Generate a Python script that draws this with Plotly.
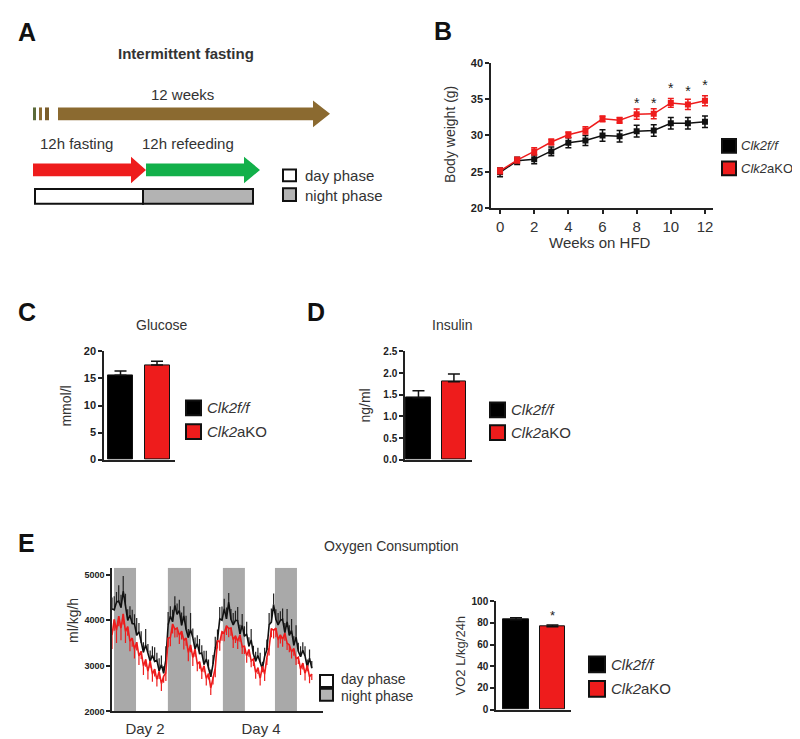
import plotly.graph_objects as go

W, H = 800, 739
FONT = "Liberation Sans, Arial, sans-serif"
TXT = "#333333"
RED = "#ee1c1c"
GRAY = "#a9a9a9"

# ---------------- data ----------------
groups = ["Clk2f/f", "Clk2aKO"]
group_labels = ["<i>Clk2f/f</i>", "<i>Clk2</i>aKO"]
group_colors = ["#000000", RED]

# Panel B: body weight
weeks = list(range(13))
bw_ctrl = [24.9, 26.5, 26.7, 27.8, 29.0, 29.3, 30.0, 29.9, 30.6, 30.7, 31.7, 31.7, 31.9]
bw_ctrl_err = [0.6, 0.5, 0.6, 0.6, 0.7, 0.7, 0.8, 0.8, 0.8, 0.8, 0.8, 0.8, 0.8]
bw_ko = [25.1, 26.6, 27.8, 29.1, 30.1, 30.7, 32.3, 32.1, 32.95, 33.0, 34.5, 34.3, 34.8]
bw_ko_err = [0.4, 0.4, 0.5, 0.4, 0.4, 0.5, 0.4, 0.4, 0.7, 0.7, 0.6, 0.7, 0.7]
sig_weeks = [8, 9, 10, 11, 12]
sig_y = [34.3, 34.3, 36.3, 36.0, 36.8]

# Panel C / D
glucose = [15.6, 17.5]
glucose_err = [0.8, 0.7]
insulin = [1.43, 1.80]
insulin_err = [0.16, 0.18]

# Panel E: VO2 24h
vo2 = [83.0, 76.5]
vo2_err = [1.8, 1.6]
vo2_sig = 86

# Panel E: oxygen consumption time course (hours)
o2_ctrl = [4250, 4230, 4400, 4420, 4280, 4640, 4320, 4000, 4110, 3930,
           3920, 3670, 3750, 3500, 3300, 3460, 3300, 3100, 3230, 3100,
           3120, 2890, 3030, 2840, 3130, 3900, 4090, 3970, 4330, 4130,
           4220, 3890, 4100, 3800, 3620, 3800, 3620, 3370, 3490, 3270,
           3280, 3030, 3150, 2920, 2760, 3040, 3390, 3570, 4030, 4000,
           4250, 4030, 4400, 4020, 3900, 4000, 3990, 3700, 3890, 3650,
           3700, 3430, 3570, 3260, 3100, 3230, 3090, 2930, 3210, 3350,
           3900, 3960, 4350, 4020, 3900, 4000, 4020, 3730, 3970, 3670,
           3780, 3450, 3630, 3320, 3200, 3340, 3220, 2970, 3170, 2950]
o2_ctrl_err = [250, 300, 220, 350, 280, 330, 260, 240, 200, 300,
               210, 380, 190, 260, 220, 350, 180, 240, 200, 310,
               170, 280, 200, 150, 300, 280, 220, 260, 200, 240,
               230, 280, 210, 300, 190, 360, 200, 250, 180, 320,
               170, 300, 180, 220, 160, 200, 250, 230, 260, 300,
               220, 250, 200, 230, 260, 210, 300, 200, 250, 220,
               270, 200, 240, 180, 210, 170, 200, 160, 190, 230,
               260, 300, 240, 220, 260, 200, 240, 210, 280, 220,
               250, 200, 260, 190, 230, 180, 210, 170, 190, 160]
o2_ko = [3670, 4020, 3780, 4090, 3820, 4140, 3750, 3860, 3540, 3610,
         3370, 3520, 3220, 3320, 2990, 3140, 2880, 3110, 2820, 2930,
         2700, 2880, 2610, 2770, 2850, 3610, 3620, 3920, 3800, 3830,
         3670, 3760, 3560, 3610, 3290, 3460, 3180, 3370, 3040, 3090,
         2870, 3000, 2720, 2830, 2510, 2760, 2950, 3560, 3520, 3750,
         3720, 3880, 3820, 3830, 3570, 3660, 3540, 3680, 3420, 3430,
         3220, 3360, 3110, 3150, 2850, 2960, 2720, 2990, 2820, 3180,
         3400, 3820, 3780, 3830, 3570, 3680, 3580, 3720, 3500, 3460,
         3310, 3380, 3160, 3190, 2930, 3060, 2830, 3010, 2760, 2820]
o2_ko_err = [300, 250, 280, 220, 260, 230, 250, 200, 220, 190,
             210, 180, 200, 170, 190, 160, 180, 150, 170, 160,
             150, 170, 160, 140, 180, 200, 190, 210, 180, 200,
             190, 180, 200, 170, 190, 160, 180, 170, 160, 150,
             160, 140, 150, 130, 150, 170, 200, 180, 190, 200,
             180, 200, 190, 170, 180, 160, 170, 150, 160, 170,
             150, 160, 140, 150, 130, 140, 150, 130, 150, 160,
             170, 190, 180, 200, 170, 190, 160, 170, 150, 160,
             150, 160, 140, 150, 130, 140, 150, 130, 140, 130]
hours = list(range(len(o2_ctrl)))
night_start = [0.9, 24.9, 49.4, 72.6]
night_end = [10.7, 35.2, 59.2, 82.4]
day_tick_pos = [14.7, 66.4]
day_tick_text = ["Day 2", "Day 4"]

# ---------------- helpers ----------------
def fx(x):
    return x / W

def fy(y):
    return 1 - y / H

def dom_x(a, b):
    return [fx(a), fx(b)]

def dom_y(top, bottom):
    return [fy(bottom), fy(top)]

shapes = []
annotations = []

def rect(x0, y0, x1, y1, fill, lc=None, lw=0, layer="above"):
    shapes.append(dict(type="rect", xref="paper", yref="paper",
                       x0=fx(x0), x1=fx(x1), y0=fy(y1), y1=fy(y0),
                       fillcolor=fill, layer=layer,
                       line=dict(color=lc or fill, width=lw)))

def arrow(x0, xh, xt, yc, hs, hh, color):
    pts = [(x0, yc - hs), (xh, yc - hs), (xh, yc - hh), (xt, yc),
           (xh, yc + hh), (xh, yc + hs), (x0, yc + hs)]
    path = "M " + " L ".join(f"{fx(a):.5f},{fy(b):.5f}" for a, b in pts) + " Z"
    shapes.append(dict(type="path", xref="paper", yref="paper", path=path,
                       fillcolor=color, line=dict(width=0)))

def ann(text, x, y, size, bold=False, color=TXT, xanchor="center",
        yanchor="middle", angle=0):
    annotations.append(dict(text=text, x=fx(x), y=fy(y), xref="paper", yref="paper",
                            showarrow=False, xanchor=xanchor, yanchor=yanchor,
                            textangle=angle, borderpad=0,
                            font=dict(family=FONT, size=size, color=color,
                                      weight="bold" if bold else "normal")))

def legend_box(x, y_top, labels, fills, text_size=15, sq=15, gap=8, pad=5):
    for i, (lab, fc) in enumerate(zip(labels, fills)):
        yt = y_top + i * (sq + gap)
        shapes.append(dict(type="rect", xref="paper", yref="paper",
                           x0=fx(x), x1=fx(x + sq), y0=fy(yt + sq), y1=fy(yt),
                           fillcolor=fc, line=dict(color="#111111", width=2)))
        ann(lab, x + sq + pad, yt + sq / 2, text_size, xanchor="left")

# ---------------- Panel A (diagram) ----------------
ann("A", 9, 18, 25, bold=True, color="#111111", xanchor="left")
ann("Intermittent fasting", 178, 40, 15, bold=True)
ann("12 weeks", 174, 82, 15)
for s0, s1, c in [(25, 28, "#5b6a3a"), (31, 34, "#8b6b32"), (37, 41, "#7a5c2a")]:
    rect(s0, 95, s1, 108, c)
arrow(50, 305, 322, 101.5, 6.5, 13.5, "#8b6a30")
ann("12h fasting", 68, 132, 15)
ann("12h refeeding", 180, 132, 15)
arrow(138, 236, 252, 158.5, 6.5, 13.5, "#12b04a")
arrow(25, 123, 138, 158.5, 6.5, 13.5, "#ee1c1c")
rect(27, 178, 135, 193, "#ffffff", "#111111", 2)
rect(135, 178, 245, 193, "#b3b3b3", "#111111", 2)
shapes.append(dict(type="rect", xref="paper", yref="paper",
                   x0=fx(275), x1=fx(288), y0=fy(170), y1=fy(158),
                   fillcolor="#ffffff", line=dict(color="#111111", width=2)))
shapes.append(dict(type="rect", xref="paper", yref="paper",
                   x0=fx(275), x1=fx(288), y0=fy(190), y1=fy(177),
                   fillcolor="#b3b3b3", line=dict(color="#111111", width=2)))
ann("day phase", 296, 164, 15, xanchor="left")
ann("night phase", 296, 184, 15, xanchor="left")

# ---------------- figure ----------------
fig = go.Figure()

# Panel B
fig.add_trace(go.Scatter(x=weeks, y=bw_ctrl, mode="lines+markers", xaxis="x", yaxis="y",
                         line=dict(color="#111111", width=1.5),
                         marker=dict(symbol="square", size=6, color="#111111"),
                         error_y=dict(type="data", array=bw_ctrl_err, color="#111111",
                                      thickness=1.5, width=3)))
fig.add_trace(go.Scatter(x=weeks, y=bw_ko, mode="lines+markers", xaxis="x", yaxis="y",
                         line=dict(color=RED, width=1.5),
                         marker=dict(symbol="square", size=6, color=RED),
                         error_y=dict(type="data", array=bw_ko_err, color=RED,
                                      thickness=1.5, width=3)))
fig.add_trace(go.Scatter(x=sig_weeks, y=sig_y, mode="text", text=["*"] * len(sig_weeks),
                         textposition="middle center", xaxis="x", yaxis="y",
                         textfont=dict(family=FONT, size=14, color="#222222")))
ann("B", 425, 17, 25, bold=True, color="#111111", xanchor="left")
ann("Body weight (g)", 442, 123, 14, angle=-90)
ann("Weeks on HFD", 592, 232, 15)
legend_box(714, 127, group_labels, group_colors, text_size=13, sq=14, gap=9, pad=4)

# Panel C
fig.add_trace(go.Bar(x=[0, 1], y=glucose, width=0.685, xaxis="x2", yaxis="y2",
                     marker=dict(color=group_colors, line=dict(color="#111111", width=1)),
                     error_y=dict(type="data", symmetric=False, array=glucose_err,
                                  arrayminus=[0, 0], color="#111111", thickness=1.5, width=6)))
ann("C", 9, 303, 25, bold=True, color="#111111", xanchor="left")
ann("Glucose", 154, 316, 14)
ann("mmol/l", 58, 398, 14, angle=-90)
legend_box(178, 393, group_labels, group_colors, sq=15, gap=9)

# Panel D
fig.add_trace(go.Bar(x=[0, 1], y=insulin, width=0.70, xaxis="x3", yaxis="y3",
                     marker=dict(color=group_colors, line=dict(color="#111111", width=1)),
                     error_y=dict(type="data", symmetric=False, array=insulin_err,
                                  arrayminus=[0, 0], color="#111111", thickness=1.5, width=6)))
ann("D", 298, 303, 25, bold=True, color="#111111", xanchor="left")
ann("Insulin", 444, 316, 14)
ann("ng/ml", 357, 398, 14, angle=-90)
legend_box(482, 395, group_labels, group_colors, sq=15, gap=8)

# Panel E time course
for s0, s1 in zip(night_start, night_end):
    shapes.append(dict(type="rect", xref="x4", yref="y4", x0=s0, x1=s1, y0=2000, y1=5150,
                       fillcolor=GRAY, line=dict(width=0), layer="below"))
fig.add_trace(go.Scatter(x=hours, y=o2_ctrl, mode="lines", xaxis="x4", yaxis="y4",
                         line=dict(color="#111111", width=1.6),
                         error_y=dict(type="data", symmetric=False, array=o2_ctrl_err,
                                      arrayminus=[0] * len(hours), color="#222222",
                                      thickness=1.2, width=0)))
fig.add_trace(go.Scatter(x=hours, y=o2_ko, mode="lines", xaxis="x4", yaxis="y4",
                         line=dict(color=RED, width=1.6),
                         error_y=dict(type="data", symmetric=False, array=[0] * len(hours),
                                      arrayminus=o2_ko_err, color=RED,
                                      thickness=1.2, width=0)))
ann("E", 9, 538, 25, bold=True, color="#111111", xanchor="left")
ann("Oxygen Consumption", 383, 541, 14)
ann("ml/kg/h", 65, 617, 14, angle=-90)
shapes.append(dict(type="rect", xref="paper", yref="paper",
                   x0=fx(312), x1=fx(325), y0=fy(684), y1=fy(672),
                   fillcolor="#ffffff", line=dict(color="#111111", width=2)))
shapes.append(dict(type="rect", xref="paper", yref="paper",
                   x0=fx(312), x1=fx(325), y0=fy(698), y1=fy(686),
                   fillcolor="#b3b3b3", line=dict(color="#111111", width=2)))
ann("day phase", 332, 676, 14, xanchor="left")
ann("night phase", 332, 693, 14, xanchor="left")

# Panel E VO2 bars
fig.add_trace(go.Bar(x=[0, 1], y=vo2, width=0.71, xaxis="x5", yaxis="y5",
                     marker=dict(color=group_colors, line=dict(color="#111111", width=1)),
                     error_y=dict(type="data", symmetric=False, array=vo2_err,
                                  arrayminus=[0, 0], color="#111111", thickness=1.5, width=6)))
fig.add_trace(go.Scatter(x=[1], y=[vo2_sig], mode="text", text=["*"], xaxis="x5", yaxis="y5",
                         textfont=dict(family=FONT, size=13, color="#222222")))
ann("VO2 L/kg/24h", 452, 652, 13, angle=-90)
legend_box(581, 653, group_labels, group_colors, sq=16, gap=9)

# ---------------- axes ----------------
def axis_style(**kw):
    base = dict(showline=True, linecolor="#222222", linewidth=1.5, showgrid=False,
                zeroline=False, ticks="outside", ticklen=4, tickwidth=1.5,
                tickcolor="#222222", fixedrange=True)
    base.update(kw)
    return base

def tf_bold(s):
    return dict(family=FONT, size=s, color="#222222", weight="bold")

layout = dict(
    width=W, height=H, margin=dict(l=0, r=0, t=0, b=0),
    paper_bgcolor="white", plot_bgcolor="white", showlegend=False,
    shapes=shapes, annotations=annotations, bargap=0,
    # B
    xaxis=axis_style(domain=dom_x(483, 705), range=[-0.53, 12.47], anchor="y",
                     tickvals=[0, 2, 4, 6, 8, 10, 12],
                     tickfont=dict(family=FONT, size=15, color=TXT)),
    yaxis=axis_style(domain=dom_y(50, 197), range=[20, 40], anchor="x",
                     tickvals=[20, 25, 30, 35, 40], tickfont=tf_bold(11)),
    # C
    xaxis2=axis_style(domain=dom_x(96, 167), range=[-0.452, 1.493], anchor="y2",
                      showticklabels=False, ticks=""),
    yaxis2=axis_style(domain=dom_y(343, 453), range=[0, 20], anchor="x2",
                      tickvals=[0, 5, 10, 15, 20], tickfont=tf_bold(11)),
    # D
    xaxis3=axis_style(domain=dom_x(397, 464), range=[-0.38, 1.51], anchor="y3",
                      showticklabels=False, ticks=""),
    yaxis3=axis_style(domain=dom_y(343, 453), range=[0, 2.5], anchor="x3",
                      tickvals=[0, 0.5, 1.0, 1.5, 2.0, 2.5], tickformat=".1f",
                      tickfont=tf_bold(10)),
    # E time course
    xaxis4=axis_style(domain=dom_x(104, 315), range=[0, 94], anchor="y4",
                      tickvals=day_tick_pos, ticktext=day_tick_text, ticks="",
                      ticklabelstandoff=3,
                      tickfont=dict(family=FONT, size=15, color=TXT)),
    yaxis4=axis_style(domain=dom_y(563, 709), range=[2000, 5150], anchor="x4",
                      tickvals=[2000, 3000, 4000, 5000], tickfont=tf_bold(9)),
    # E VO2
    xaxis5=axis_style(domain=dom_x(488, 563), range=[-0.55, 1.51], anchor="y5",
                      showticklabels=False, ticks=""),
    yaxis5=axis_style(domain=dom_y(597, 707), range=[0, 100], anchor="x5",
                      tickvals=[0, 20, 40, 60, 80, 100], tickfont=tf_bold(10)),
)
fig.update_layout(**layout)
fig.write_html("out.html")
